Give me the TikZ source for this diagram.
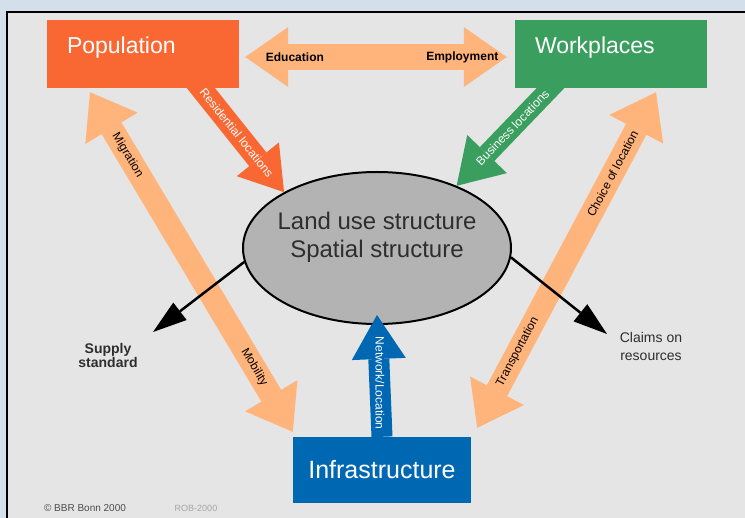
\documentclass[tikz,border=0pt]{standalone}
\usepackage{fontspec}
\setmainfont{Liberation Sans}
\usetikzlibrary{arrows.meta,shapes.geometric}
\definecolor{popred}{HTML}{F96833}
\definecolor{workgreen}{HTML}{3A9F5E}
\definecolor{infrablue}{HTML}{0067B3}
\definecolor{flowtan}{HTML}{FFB47B}
\definecolor{landgray}{HTML}{B3B3B3}
\definecolor{panelgray}{HTML}{E5E5E5}
\definecolor{edgeblue}{HTML}{D3E0EC}
\definecolor{inkgray}{HTML}{2E2E2E}
\pgfdeclarelayer{bottom}
\pgfdeclarelayer{middle}
\pgfsetlayers{bottom,middle,main}
\tikzset{
    box/.style={rectangle, inner sep=0pt, text=white},
    toplbl/.style={text width=152pt, align=left, text height=16pt, text depth=16pt, font=\fontsize{23}{26}\selectfont},
    land/.style={ellipse, draw=black, line width=2pt, fill=landgray, minimum width=268pt, minimum height=152pt, inner sep=0pt},
    bigflow/.style={flowtan, line width=23pt, {Triangle[length=42pt,width=61pt,line width=0pt]}-{Triangle[length=42pt,width=61pt,line width=0pt]}},
    darkarrow/.style={black, line width=2.5pt, -{Triangle[length=34pt,width=22pt,line width=0pt]}},
    flowlbl/.style={sloped, inner sep=0pt, text=black, font=\fontsize{12}{12}\selectfont},
    note/.style={align=center, text=inkgray, inner sep=0pt}
}
\begin{document}
\begin{tikzpicture}[x=1pt,y=-1pt]
            \useasboundingbox (0,0) rectangle (745,518);
            \begin{pgfonlayer}{bottom}
            \fill [edgeblue] (0,0) rectangle (745,518);
            \filldraw [fill=panelgray, draw=black, line width=2.5pt] (7,12) rectangle (770,540);
            \end{pgfonlayer}
            \node [box, fill=popred, minimum width=192pt, minimum height=68pt, toplbl] (pop) at (143,54) {Population};
            \node [box, fill=workgreen, minimum width=192pt, minimum height=68pt, toplbl] (work) at (611,54) {Workplaces};
            \node [box, fill=infrablue, minimum width=178pt, minimum height=66pt, font=\fontsize{25}{28}\selectfont] (infra) at (382,470) {Infrastructure};
            \begin{pgfonlayer}{middle}
            \node [land] (land) at (377,248) {};
            \node [note, font=\fontsize{24}{28}\selectfont] (landtxt) at ([yshift=11pt]land.center) {Land use structure\\Spatial structure};
            \draw [popred, line width=22pt, -{Triangle[length=42pt,width=54pt,line width=0pt]}] ([xshift=50pt,yshift=10pt]pop.south) -- (land.149) node [flowlbl, text=white, pos=0.48] {Residential locations};
            \draw [workgreen, line width=20pt, -{Triangle[length=44pt,width=55pt,line width=0pt]}] ([xshift=-51pt,yshift=10pt]work.south) -- (land.38) node [flowlbl, text=white, pos=0.46] {Business locations};
            \draw [infrablue, line width=21pt, -{Triangle[length=44pt,width=54pt,line width=0pt]}] (infra.north) -- ([yshift=10pt]land.south) node [inner sep=0pt, text=white, rotate=-90, font=\fontsize{12}{12}\selectfont, pos=0.44] {Network/Location};
            \coordinate (supplytip) at (153,332);
            \coordinate (claimstip) at (607,334);
            \draw [darkarrow] (land.186) -- (supplytip);
            \draw [darkarrow] (land.356) -- (claimstip);
            \end{pgfonlayer}
            \begin{pgfonlayer}{bottom}
            \draw [bigflow] ([xshift=-53pt,yshift=-4pt]pop.south) -- ([yshift=5pt]infra.north west)
                node [flowlbl, pos=0.185] {Migration}
                node [flowlbl, pos=0.81] {Mobility};
            \draw [bigflow] ([xshift=45pt,yshift=-4pt]work.south) -- ([xshift=6pt,yshift=9pt]infra.north east)
                node [flowlbl, pos=0.243] {Choice of location}
                node [flowlbl, pos=0.774] {Transportation};
            \draw [flowtan, line width=26pt, {Triangle[length=43pt,width=60pt,line width=0pt]}-{Triangle[length=43pt,width=60pt,line width=0pt]}] ([xshift=6pt,yshift=-3pt]pop.east) -- ([xshift=-8pt,yshift=-3pt]work.west)
                node [inner sep=0pt, text=black, font=\bfseries\fontsize{12}{12}\selectfont, pos=0.19] {Education}
                node [inner sep=0pt, text=black, font=\bfseries\fontsize{12}{12}\selectfont, pos=0.83] {Employment};
            \end{pgfonlayer}
            \node [note, font=\bfseries\fontsize{14}{14}\selectfont] (supply) at (108,355) {Supply\\standard};
            \node [note, font=\fontsize{14}{18}\selectfont] (claims) at (651,346) {Claims on\\resources};
            \node [note, text=black!70, font=\fontsize{10}{10}\selectfont] (copy) at (85,508) {\textcopyright{} BBR Bonn 2000};
            \node [note, text=black!35, font=\fontsize{9}{9}\selectfont] (code) at (196,508) {ROB-2000};
\end{tikzpicture}
\end{document}
